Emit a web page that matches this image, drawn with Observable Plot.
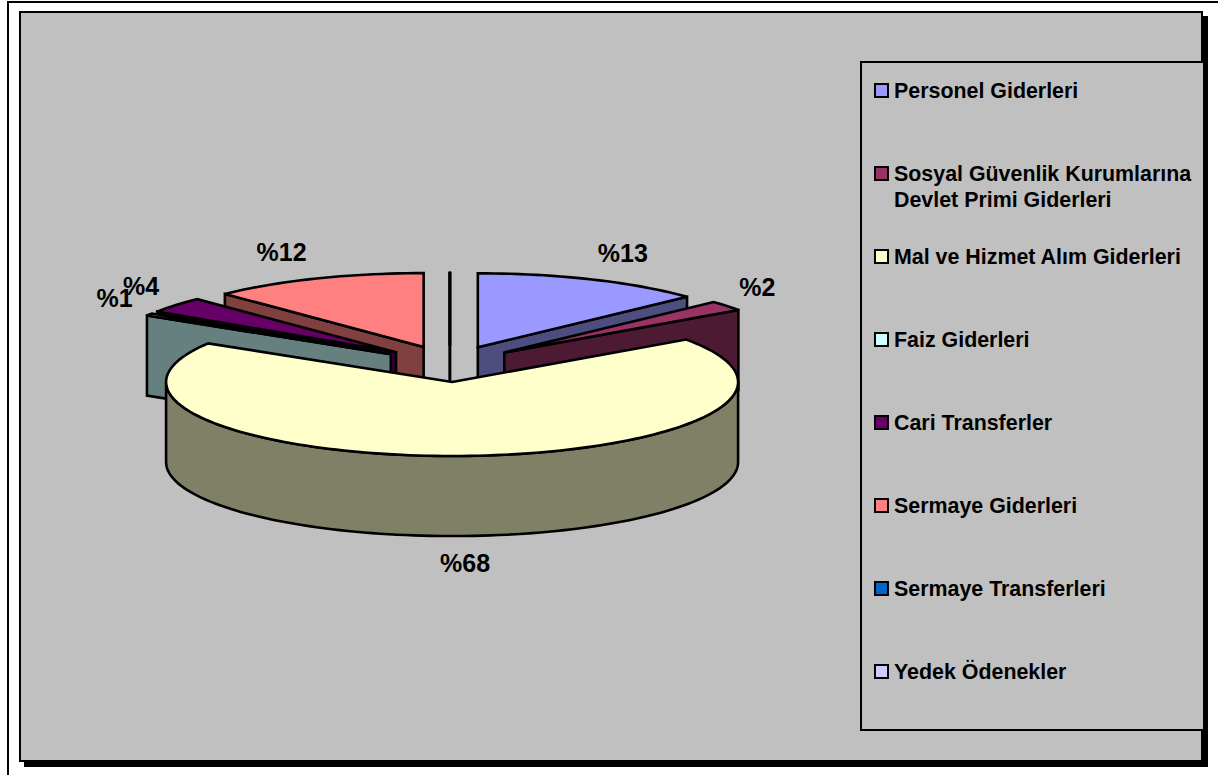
<!DOCTYPE html>
<html lang="tr">
<head>
<meta charset="utf-8">
<title>Giderler</title>
<script src="https://cdn.jsdelivr.net/npm/d3@7"></script>
<script src="https://cdn.jsdelivr.net/npm/@observablehq/plot@0.6"></script>
<style>
  html, body { margin: 0; padding: 0; width: 1218px; height: 775px; overflow: hidden; background: #fff; }
  body { font-family: "Liberation Sans", Arial, sans-serif; color: #000; position: relative; }
  #outer { position: absolute; left: 7px; top: 1px; width: 1211px; height: 774px; box-sizing: border-box;
           border-top: 2px solid #000; border-left: 2px solid #000; }
  #panel { position: absolute; left: 19px; top: 11px; width: 1180px; height: 747px; background: #c0c0c0;
           border: 2px solid #000; box-shadow: 5px 5px 0 #000; }
  #chart { position: absolute; left: 0; top: 0; }
  #chart svg { display: block; background: transparent; }
  #legend { position: absolute; left: 838.5px; top: 48px; width: 341.5px; height: 666px; background: #c0c0c0;
            border: 2px solid #000; border-right: 0; }
  .item { position: absolute; left: 12.5px; width: 325px; display: flex; align-items: flex-start;
          font-weight: bold; font-size: 21.4px; line-height: 26px; }
  .swatch { flex: none; width: 11px; height: 11px; border: 2px solid #000; margin: 5px 5px 0 0; }
</style>
</head>
<body>
<div id="outer"></div>
<div id="panel">
  <div id="chart"></div>
  <div id="legend"></div>
</div>
<script>
// Data, clockwise from twelve o'clock
const categories = ["Personel Giderleri", "Sosyal Güvenlik Kurumlarına Devlet Primi Giderleri",
  "Mal ve Hizmet Alım Giderleri", "Faiz Giderleri", "Cari Transferler", "Sermaye Giderleri",
  "Sermaye Transferleri", "Yedek Ödenekler"];
const values = [13.06, 2.2, 68.49, 0.52, 3.5, 12.23, 0, 0];
const topColors = ["#9999ff", "#993366", "#ffffcc", "#ccffff", "#660066", "#ff8080", "#0066cc", "#ccccff"];
const wallColors = ["#4d4d80", "#4d1a33", "#808066", "#668080", "#330033", "#804040", "#003366", "#666680"];

// Pie layout
const W = 1180, H = 747;
const radiusPx = 286, centerX = 428.4, centerY = 350.4;
const tilt = 0.2587, explode = 0.2448, depth = 0.28;

const rad = d3.scaleLinear().domain([0, 100]).range([0, 2 * Math.PI]);
const at = (c, a, z = 0) => ({x: c.x + Math.sin(a), y: c.y - Math.cos(a) * tilt + z});
const rim = (c, a0, a1, z = 0) => {
  const n = Math.max(1, Math.ceil((a1 - a0) / 0.03));
  return d3.range(n + 1).map(i => at(c, a0 + (a1 - a0) * i / n, z));
};

let cum = 0;
const slices = values.map((v, i) => {
  const a0 = rad(cum); cum += v; const a1 = rad(cum), mid = (a0 + a1) / 2;
  const c = {x: explode * Math.sin(mid), y: -explode * Math.cos(mid) * tilt};
  return {i, v, a0, a1, mid, c};
});

// Painter's order: back slices first
const order = [...slices].sort((p, q) => Math.cos(q.mid) - Math.cos(p.mid));
const parts = [];
const addPart = (points, fill) => {
  const id = parts.length;
  parts.push({id, points, fill});
};
for (const s of order) {
  const {c, a0, a1, i} = s;
  const wall = a => [c, at(c, a), at(c, a, depth), {x: c.x, y: c.y + depth}];
  if (a0 >= Math.PI) addPart(wall(a0), wallColors[i]);
  if (a1 <= Math.PI) addPart(wall(a1), wallColors[i]);
  const f0 = Math.max(a0, Math.PI / 2), f1 = Math.min(a1, 3 * Math.PI / 2);
  if (f1 > f0) addPart([...rim(c, f0, f1), ...rim(c, f0, f1, depth).reverse()], wallColors[i]);
  addPart([c, ...rim(c, a0, a1)], topColors[i]);
}
const rows = parts.flatMap(p => p.points.map(q => ({x: q.x, y: q.y, id: p.id, fill: p.fill})));

const clamp = d3.scaleLinear().domain([-1, 1]).range([-1, 1]).clamp(true);
const labels = slices.filter(s => s.v > 0).map(s => {
  const p = at(s.c, s.mid, Math.cos(s.mid) < 0 ? depth : 0);
  return {x: p.x + 0.115 * clamp(Math.sin(s.mid) * 6) - 0.007,
          y: p.y - 0.098 * Math.cos(s.mid),
          text: "%" + Math.round(s.v)};
});

const chart = Plot.plot({
  width: W, height: H, margin: 0,
  x: {domain: [-centerX / radiusPx, (W - centerX) / radiusPx], range: [0, W], axis: null},
  y: {domain: [-centerY / radiusPx, (H - centerY) / radiusPx], range: [0, H], axis: null},
  color: {type: "identity"},
  style: {background: "transparent", fontFamily: "'Liberation Sans', Arial, sans-serif"},
  marks: [
    Plot.line(rows, {x: "x", y: "y", z: "id", fill: "fill", stroke: "#000", strokeWidth: 2.6,
      curve: "linear-closed", strokeLinejoin: "miter", strokeMiterlimit: 3}),
    Plot.text(labels, {x: "x", y: "y", text: "text", fontSize: 25, fontWeight: "bold", fill: "#000",
      lineAnchor: "middle", textAnchor: "middle"})
  ]
});
document.getElementById("chart").appendChild(chart);

const legend = d3.select("#legend");
categories.forEach((name, i) => {
  const item = legend.append("div").attr("class", "item").style("top", (15 + i * 83) + "px");
  item.append("span").attr("class", "swatch").style("background", topColors[i]);
  item.append("span").text(name);
});
</script>
</body>
</html>
